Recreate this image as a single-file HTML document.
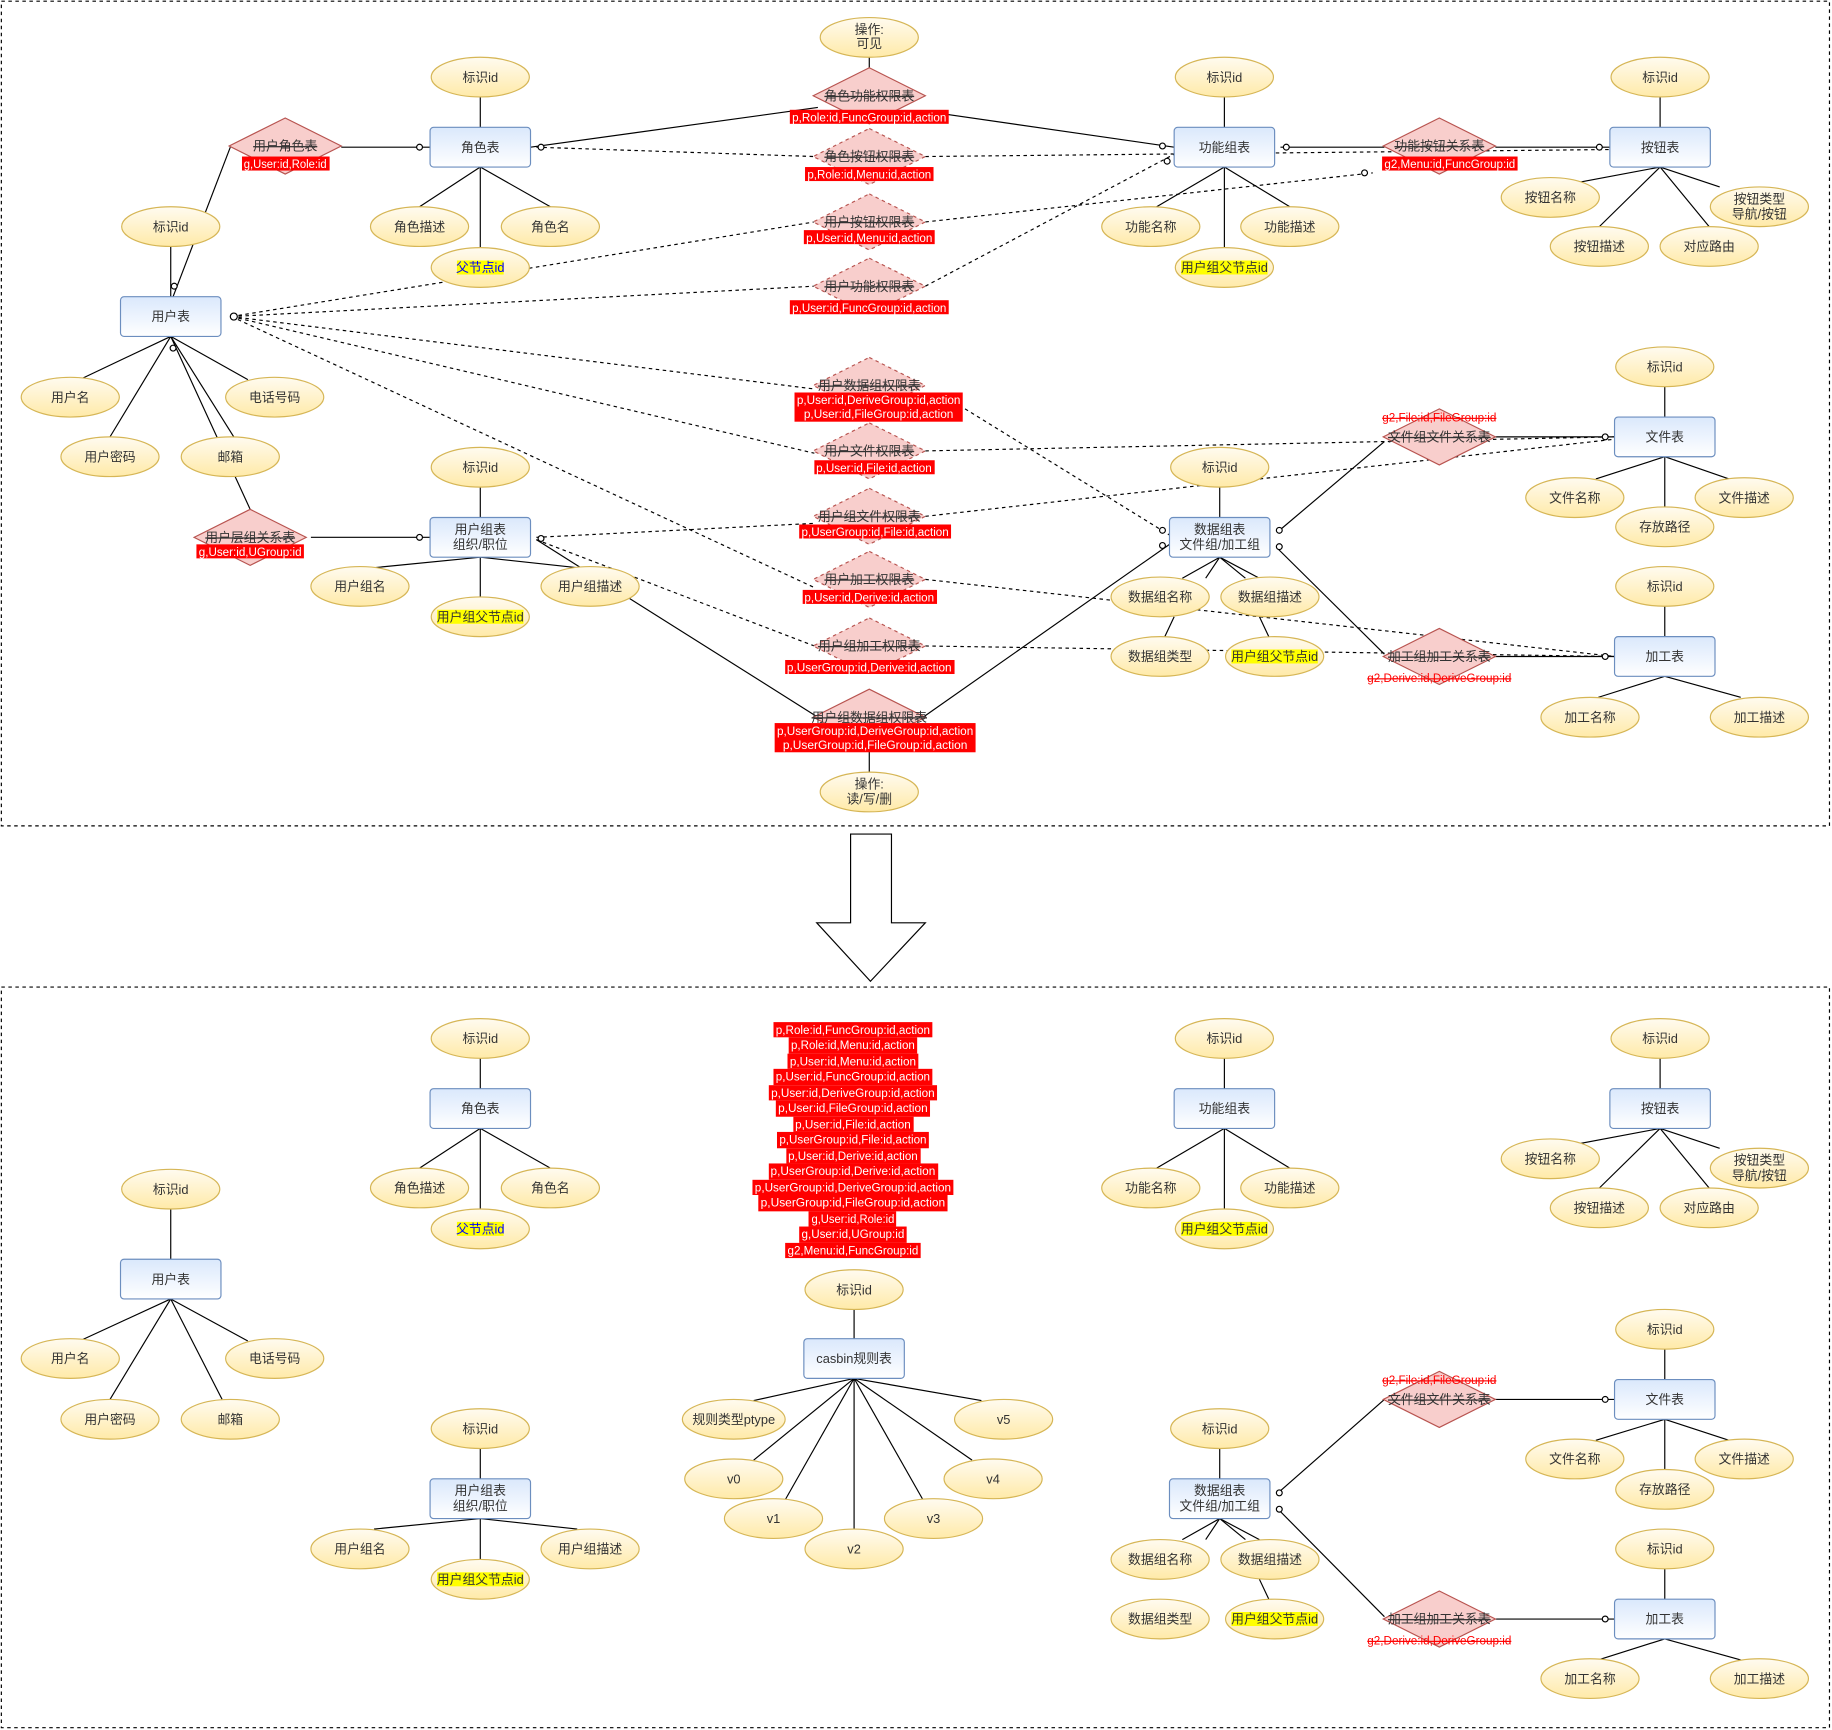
<!DOCTYPE html>
<html><head><meta charset="utf-8"><style>
html,body{margin:0;padding:0;background:#fff;}
svg{display:block;}
text{font-family:"Liberation Sans","Noto Sans CJK SC",sans-serif;font-size:11px;fill:#333;text-anchor:middle;}
.e{fill:url(#ge);stroke:#d6b656;stroke-width:1;}
.r{fill:url(#gr);stroke:#6c8ebf;stroke-width:1;}
.d{fill:#f8cecc;stroke:#b85450;stroke-width:1;}
.dd{fill:#f8cecc;stroke:#b85450;stroke-width:1;stroke-dasharray:3 3;}
.l{stroke:#000;stroke-width:1;fill:none;}
.ds{stroke:#000;stroke-width:1;fill:none;stroke-dasharray:3 3;}
.rl{fill:#fff;font-size:10px;}
.st{text-decoration:line-through;}
.rt{fill:#f00;font-size:10px;text-decoration:line-through;}
.hl{fill:#ff0;}
.o{fill:#fff;stroke:#000;stroke-width:1;}
</style></head><body>
<svg width="1832" height="1730" viewBox="0 0 1568 1481" xmlns="http://www.w3.org/2000/svg">
<defs>
<linearGradient id="ge" x1="0" y1="0" x2="0" y2="1"><stop offset="0" stop-color="#fffbf0"/><stop offset="1" stop-color="#ffeaa8"/></linearGradient>
<linearGradient id="gr" x1="0" y1="0" x2="0" y2="1"><stop offset="0" stop-color="#dae8fc"/><stop offset="1" stop-color="#ffffff"/></linearGradient>
</defs>
<rect x="0" y="0" width="1568" height="1481" fill="#fff"/>
<rect x="1" y="1" width="1565" height="706" fill="none" stroke="#000" stroke-dasharray="3 3"/>
<rect x="1" y="845" width="1565" height="634" fill="none" stroke="#000" stroke-dasharray="3 3"/>

<!-- big arrow -->
<path d="M728,714 L763,714 L763,790 L792,790 L745,840 L699,790 L728,790 Z" fill="#fff" stroke="#000"/>

<!-- ===== TOP LINES ===== -->
<g class="l">
<line x1="744" y1="48" x2="744" y2="82"/>
<line x1="744" y1="643" x2="744" y2="662"/>
<line x1="292" y1="126" x2="368" y2="126"/>
<line x1="197" y1="126" x2="148" y2="254"/>
<line x1="146" y1="211" x2="146" y2="254"/>
<line x1="454" y1="126" x2="700" y2="92"/>
<line x1="790" y1="95" x2="1005" y2="126"/>
<line x1="411" y1="83" x2="411" y2="109"/>
<line x1="411" y1="143" x2="359" y2="177"/>
<line x1="411" y1="143" x2="471" y2="177"/>
<line x1="411" y1="143" x2="411" y2="212"/>
<line x1="146" y1="288" x2="70" y2="324"/>
<line x1="146" y1="288" x2="212" y2="325"/>
<line x1="146" y1="288" x2="94" y2="374"/>
<line x1="146" y1="288" x2="200" y2="374"/>
<line x1="146" y1="288" x2="214" y2="436"/>
<line x1="266" y1="460" x2="368" y2="460"/>
<line x1="411" y1="417" x2="411" y2="443"/>
<line x1="411" y1="477" x2="320" y2="486"/>
<line x1="411" y1="477" x2="494" y2="486"/>
<line x1="411" y1="477" x2="411" y2="511"/>
<line x1="459" y1="462" x2="700" y2="614"/>
<line x1="790" y1="614" x2="1001" y2="466"/>
<line x1="1048" y1="83" x2="1048" y2="109"/>
<line x1="1048" y1="143" x2="990" y2="177"/>
<line x1="1048" y1="143" x2="1104" y2="177"/>
<line x1="1048" y1="143" x2="1048" y2="212"/>
<line x1="1096" y1="126" x2="1185" y2="126"/>
<line x1="1280" y1="126" x2="1378" y2="126"/>
<line x1="1421" y1="83" x2="1421" y2="109"/>
<line x1="1421" y1="143" x2="1352" y2="156"/>
<line x1="1421" y1="143" x2="1472" y2="160"/>
<line x1="1421" y1="143" x2="1369" y2="194"/>
<line x1="1421" y1="143" x2="1463" y2="194"/>
<line x1="1425" y1="331" x2="1425" y2="357"/>
<line x1="1425" y1="391" x2="1366" y2="410"/>
<line x1="1425" y1="391" x2="1480" y2="410"/>
<line x1="1425" y1="391" x2="1425" y2="434"/>
<line x1="1185" y1="378" x2="1094" y2="455"/>
<line x1="1280" y1="374" x2="1382" y2="374"/>
<line x1="1044" y1="417" x2="1044" y2="443"/>
<line x1="1044" y1="477" x2="1012" y2="495"/>
<line x1="1044" y1="477" x2="1066" y2="495"/>
<line x1="1044" y1="477" x2="1032" y2="495"/>
<line x1="1044" y1="477" x2="1078" y2="495"/>
<line x1="1005" y1="528" x2="997" y2="545"/>
<line x1="1078" y1="528" x2="1086" y2="545"/>
<line x1="1185" y1="560" x2="1094" y2="470"/>
<line x1="1280" y1="562" x2="1382" y2="562"/>
<line x1="1425" y1="519" x2="1425" y2="545"/>
<line x1="1425" y1="579" x2="1368" y2="597"/>
<line x1="1425" y1="579" x2="1490" y2="597"/>
</g>
<g class="ds">
<line x1="459" y1="126" x2="697" y2="134"/>
<line x1="792" y1="134" x2="1378" y2="128"/>
<line x1="792" y1="190" x2="1175" y2="148"/>
<line x1="792" y1="245" x2="1005" y2="132"/>
<line x1="198" y1="271" x2="697" y2="190"/>
<line x1="198" y1="271" x2="697" y2="245"/>
<line x1="198" y1="271" x2="697" y2="333"/>
<line x1="198" y1="271" x2="697" y2="388"/>
<line x1="198" y1="271" x2="697" y2="503"/>
<line x1="826" y1="350" x2="1001" y2="458"/>
<line x1="792" y1="386" x2="1382" y2="374"/>
<line x1="459" y1="460" x2="697" y2="448"/>
<line x1="792" y1="442" x2="1382" y2="376"/>
<line x1="459" y1="462" x2="697" y2="553"/>
<line x1="792" y1="553" x2="1382" y2="562"/>
<line x1="792" y1="496" x2="1382" y2="562"/>
</g>
<!-- markers -->
<g class="o">
<circle cx="359" cy="126" r="2.5"/><circle cx="463" cy="126" r="2.5"/><circle cx="200" cy="271" r="3"/>
<circle cx="149" cy="245" r="2.5"/><circle cx="148" cy="298" r="2.5"/><circle cx="359" cy="460" r="2.5"/>
<circle cx="463" cy="461" r="2.5"/><circle cx="995" cy="125" r="2.5"/><circle cx="999" cy="138" r="2.5"/>
<circle cx="1101" cy="126" r="2.5"/><circle cx="1369" cy="126" r="2.5"/><circle cx="1168" cy="148" r="2.5"/>
<circle cx="1374" cy="374" r="2.5"/><circle cx="995" cy="454" r="2.5"/><circle cx="995" cy="467" r="2.5"/>
<circle cx="1095" cy="454" r="2.5"/><circle cx="1095" cy="468" r="2.5"/><circle cx="1374" cy="562" r="2.5"/>
</g>

<!-- ===== TOP DIAMONDS ===== -->
<path class="d" d="M744,58 L792,82 L744,106 L696,82Z"/><text x="744" y="86" class="st">角色功能权限表</text>
<path class="dd" d="M744,110 L792,134 L744,158 L696,134Z"/><text x="744" y="138" class="st">角色按钮权限表</text>
<path class="dd" d="M744,166 L792,190 L744,214 L696,190Z"/><text x="744" y="194" class="st">用户按钮权限表</text>
<path class="dd" d="M744,221 L792,245 L744,269 L696,245Z"/><text x="744" y="249" class="st">用户功能权限表</text>
<path class="dd" d="M744,306 L792,330 L744,354 L696,330Z"/><text x="744" y="334" class="st">用户数据组权限表</text>
<path class="dd" d="M744,362 L792,386 L744,410 L696,386Z"/><text x="744" y="390" class="st">用户文件权限表</text>
<path class="dd" d="M744,418 L792,442 L744,466 L696,442Z"/><text x="744" y="446" class="st">用户组文件权限表</text>
<path class="dd" d="M744,472 L792,496 L744,520 L696,496Z"/><text x="744" y="500" class="st">用户加工权限表</text>
<path class="dd" d="M744,529 L792,553 L744,577 L696,553Z"/><text x="744" y="557" class="st">用户组加工权限表</text>
<path class="d" d="M744,590 L792,614 L744,638 L696,614Z"/><text x="744" y="618" class="st">用户组数据组权限表</text>
<path class="d" d="M244,101 L292,125 L244,149 L196,125Z"/><text x="244" y="129" class="st">用户角色表</text>
<path class="d" d="M214,436 L262,460 L214,484 L166,460Z"/><text x="214" y="464" class="st">用户层组关系表</text>
<path class="d" d="M1232,101 L1280,125 L1232,149 L1184,125Z"/><text x="1232" y="129" class="st">功能按钮关系表</text>
<path class="d" d="M1232,350 L1280,374 L1232,398 L1184,374Z"/><text x="1232" y="378" class="st">文件组文件关系表</text>
<path class="d" d="M1232,538 L1280,562 L1232,586 L1184,562Z"/><text x="1232" y="566" class="st">加工组加工关系表</text>
<text x="1232" y="361" class="rt">g2,File:id,FileGroup:id</text>
<text x="1232" y="584" class="rt">g2,Derive:id,DeriveGroup:id</text>

<!-- red labels top -->
<g>
<rect x="676" y="94" width="136" height="12" fill="#f00"/><text x="744" y="104" class="rl" textLength="132" lengthAdjust="spacingAndGlyphs">p,Role:id,FuncGroup:id,action</text>
<rect x="689" y="143" width="110" height="12" fill="#f00"/><text x="744" y="153" class="rl" textLength="106" lengthAdjust="spacingAndGlyphs">p,Role:id,Menu:id,action</text>
<rect x="688" y="197" width="112" height="12" fill="#f00"/><text x="744" y="207" class="rl" textLength="108" lengthAdjust="spacingAndGlyphs">p,User:id,Menu:id,action</text>
<rect x="676" y="257" width="136" height="12" fill="#f00"/><text x="744" y="267" class="rl" textLength="132" lengthAdjust="spacingAndGlyphs">p,User:id,FuncGroup:id,action</text>
<rect x="680" y="336" width="144" height="25" fill="#f00"/><text x="752" y="346" class="rl" textLength="140" lengthAdjust="spacingAndGlyphs">p,User:id,DeriveGroup:id,action</text><text x="752" y="358" class="rl" textLength="128" lengthAdjust="spacingAndGlyphs">p,User:id,FileGroup:id,action</text>
<rect x="697" y="394" width="103" height="12" fill="#f00"/><text x="748" y="404" class="rl" textLength="99" lengthAdjust="spacingAndGlyphs">p,User:id,File:id,action</text>
<rect x="684" y="449" width="130" height="12" fill="#f00"/><text x="749" y="459" class="rl" textLength="126" lengthAdjust="spacingAndGlyphs">p,UserGroup:id,File:id,action</text>
<rect x="687" y="505" width="115" height="12" fill="#f00"/><text x="744" y="515" class="rl" textLength="111" lengthAdjust="spacingAndGlyphs">p,User:id,Derive:id,action</text>
<rect x="672" y="565" width="145" height="12" fill="#f00"/><text x="744" y="575" class="rl" textLength="141" lengthAdjust="spacingAndGlyphs">p,UserGroup:id,Derive:id,action</text>
<rect x="663" y="619" width="172" height="25" fill="#f00"/><text x="749" y="629" class="rl" textLength="168" lengthAdjust="spacingAndGlyphs">p,UserGroup:id,DeriveGroup:id,action</text><text x="749" y="641" class="rl" textLength="158" lengthAdjust="spacingAndGlyphs">p,UserGroup:id,FileGroup:id,action</text>
<rect x="207" y="134" width="75" height="12" fill="#f00"/><text x="244" y="144" class="rl" textLength="71" lengthAdjust="spacingAndGlyphs">g,User:id,Role:id</text>
<rect x="168" y="466" width="92" height="12" fill="#f00"/><text x="214" y="476" class="rl" textLength="88" lengthAdjust="spacingAndGlyphs">g,User:id,UGroup:id</text>
<rect x="1183" y="134" width="116" height="12" fill="#f00"/><text x="1241" y="144" class="rl" textLength="112" lengthAdjust="spacingAndGlyphs">g2,Menu:id,FuncGroup:id</text>
</g>

<!-- TOP ellipses -->
<ellipse class="e" cx="744" cy="32" rx="42" ry="17"/><text x="744" y="29">操作:</text><text x="744" y="41">可见</text>
<ellipse class="e" cx="744" cy="678" rx="42" ry="17"/><text x="744" y="675">操作:</text><text x="744" y="688">读/写/删</text>
<ellipse class="e" cx="411" cy="66" rx="42" ry="17"/><text x="411" y="70">标识id</text>
<ellipse class="e" cx="359" cy="194" rx="42" ry="17"/><text x="359" y="198">角色描述</text>
<ellipse class="e" cx="471" cy="194" rx="42" ry="17"/><text x="471" y="198">角色名</text>
<ellipse class="e" cx="411" cy="229" rx="42" ry="17"/><rect x="391" y="223" width="40" height="12" class="hl"/><text x="411" y="233" style="fill:#00f">父节点id</text>
<ellipse class="e" cx="146" cy="194" rx="42" ry="17"/><text x="146" y="198">标识id</text>
<ellipse class="e" cx="60" cy="340" rx="42" ry="17"/><text x="60" y="344">用户名</text>
<ellipse class="e" cx="235" cy="340" rx="42" ry="17"/><text x="235" y="344">电话号码</text>
<ellipse class="e" cx="94" cy="391" rx="42" ry="17"/><text x="94" y="395">用户密码</text>
<ellipse class="e" cx="197" cy="391" rx="42" ry="17"/><text x="197" y="395">邮箱</text>
<ellipse class="e" cx="411" cy="400" rx="42" ry="17"/><text x="411" y="404">标识id</text>
<ellipse class="e" cx="308" cy="502" rx="42" ry="17"/><text x="308" y="506">用户组名</text>
<ellipse class="e" cx="505" cy="502" rx="42" ry="17"/><text x="505" y="506">用户组描述</text>
<ellipse class="e" cx="411" cy="528" rx="42" ry="17"/><rect x="374" y="522" width="74" height="12" class="hl"/><text x="411" y="532">用户组父节点id</text>
<ellipse class="e" cx="1048" cy="66" rx="42" ry="17"/><text x="1048" y="70">标识id</text>
<ellipse class="e" cx="985" cy="194" rx="42" ry="17"/><text x="985" y="198">功能名称</text>
<ellipse class="e" cx="1104" cy="194" rx="42" ry="17"/><text x="1104" y="198">功能描述</text>
<ellipse class="e" cx="1048" cy="229" rx="42" ry="17"/><rect x="1011" y="223" width="74" height="12" class="hl"/><text x="1048" y="233">用户组父节点id</text>
<ellipse class="e" cx="1421" cy="66" rx="42" ry="17"/><text x="1421" y="70">标识id</text>
<ellipse class="e" cx="1327" cy="169" rx="42" ry="17"/><text x="1327" y="173">按钮名称</text>
<ellipse class="e" cx="1506" cy="177" rx="42" ry="17"/><text x="1506" y="174">按钮类型</text><text x="1506" y="187">导航/按钮</text>
<ellipse class="e" cx="1369" cy="211" rx="42" ry="17"/><text x="1369" y="215">按钮描述</text>
<ellipse class="e" cx="1463" cy="211" rx="42" ry="17"/><text x="1463" y="215">对应路由</text>
<ellipse class="e" cx="1425" cy="314" rx="42" ry="17"/><text x="1425" y="318">标识id</text>
<ellipse class="e" cx="1348" cy="426" rx="42" ry="17"/><text x="1348" y="430">文件名称</text>
<ellipse class="e" cx="1493" cy="426" rx="42" ry="17"/><text x="1493" y="430">文件描述</text>
<ellipse class="e" cx="1425" cy="451" rx="42" ry="17"/><text x="1425" y="455">存放路径</text>
<ellipse class="e" cx="1044" cy="400" rx="42" ry="17"/><text x="1044" y="404">标识id</text>
<ellipse class="e" cx="993" cy="511" rx="42" ry="17"/><text x="993" y="515">数据组名称</text>
<ellipse class="e" cx="1087" cy="511" rx="42" ry="17"/><text x="1087" y="515">数据组描述</text>
<ellipse class="e" cx="993" cy="562" rx="42" ry="17"/><text x="993" y="566">数据组类型</text>
<ellipse class="e" cx="1091" cy="562" rx="42" ry="17"/><rect x="1054" y="556" width="74" height="12" class="hl"/><text x="1091" y="566">用户组父节点id</text>
<ellipse class="e" cx="1425" cy="502" rx="42" ry="17"/><text x="1425" y="506">标识id</text>
<ellipse class="e" cx="1361" cy="614" rx="42" ry="17"/><text x="1361" y="618">加工名称</text>
<ellipse class="e" cx="1506" cy="614" rx="42" ry="17"/><text x="1506" y="618">加工描述</text>

<!-- TOP rects -->
<rect class="r" x="368" y="109" width="86" height="34" rx="3"/><text x="411" y="130">角色表</text>
<rect class="r" x="103" y="254" width="86" height="34" rx="3"/><text x="146" y="275">用户表</text>
<rect class="r" x="368" y="443" width="86" height="34" rx="3"/><text x="411" y="457">用户组表</text><text x="411" y="470">组织/职位</text>
<rect class="r" x="1005" y="109" width="86" height="34" rx="3"/><text x="1048" y="130">功能组表</text>
<rect class="r" x="1378" y="109" width="86" height="34" rx="3"/><text x="1421" y="130">按钮表</text>
<rect class="r" x="1382" y="357" width="86" height="34" rx="3"/><text x="1425" y="378">文件表</text>
<rect class="r" x="1001" y="443" width="86" height="34" rx="3"/><text x="1044" y="457">数据组表</text><text x="1044" y="470">文件组/加工组</text>
<rect class="r" x="1382" y="545" width="86" height="34" rx="3"/><text x="1425" y="566">加工表</text>

<!-- ===== BOTTOM ===== -->
<g class="l">
<line x1="411" y1="906" x2="411" y2="932"/>
<line x1="411" y1="966" x2="359" y2="1000"/>
<line x1="411" y1="966" x2="471" y2="1000"/>
<line x1="411" y1="966" x2="411" y2="1035"/>
<line x1="146" y1="1035" x2="146" y2="1078"/>
<line x1="146" y1="1112" x2="70" y2="1147"/>
<line x1="146" y1="1112" x2="212" y2="1148"/>
<line x1="146" y1="1112" x2="94" y2="1198"/>
<line x1="146" y1="1112" x2="190" y2="1198"/>
<line x1="411" y1="1240" x2="411" y2="1266"/>
<line x1="411" y1="1300" x2="320" y2="1309"/>
<line x1="411" y1="1300" x2="494" y2="1309"/>
<line x1="411" y1="1300" x2="411" y2="1335"/>
<line x1="1048" y1="906" x2="1048" y2="932"/>
<line x1="1048" y1="966" x2="990" y2="1000"/>
<line x1="1048" y1="966" x2="1104" y2="1000"/>
<line x1="1048" y1="966" x2="1048" y2="1035"/>
<line x1="1421" y1="906" x2="1421" y2="932"/>
<line x1="1421" y1="966" x2="1352" y2="979"/>
<line x1="1421" y1="966" x2="1472" y2="983"/>
<line x1="1421" y1="966" x2="1369" y2="1017"/>
<line x1="1421" y1="966" x2="1463" y2="1017"/>
<line x1="731" y1="1121" x2="731" y2="1146"/>
<line x1="731" y1="1180" x2="645" y2="1199"/>
<line x1="731" y1="1180" x2="840" y2="1199"/>
<line x1="731" y1="1180" x2="645" y2="1250"/>
<line x1="731" y1="1180" x2="832" y2="1250"/>
<line x1="731" y1="1180" x2="672" y2="1284"/>
<line x1="731" y1="1180" x2="790" y2="1284"/>
<line x1="731" y1="1180" x2="731" y2="1309"/>
<line x1="1425" y1="1155" x2="1425" y2="1181"/>
<line x1="1425" y1="1215" x2="1366" y2="1233"/>
<line x1="1425" y1="1215" x2="1480" y2="1233"/>
<line x1="1425" y1="1215" x2="1425" y2="1258"/>
<line x1="1185" y1="1198" x2="1094" y2="1278"/>
<line x1="1280" y1="1198" x2="1382" y2="1198"/>
<line x1="1044" y1="1240" x2="1044" y2="1266"/>
<line x1="1044" y1="1300" x2="1012" y2="1318"/>
<line x1="1044" y1="1300" x2="1066" y2="1318"/>
<line x1="1044" y1="1300" x2="1032" y2="1318"/>
<line x1="1044" y1="1300" x2="1078" y2="1318"/>
<line x1="1078" y1="1352" x2="1086" y2="1369"/>
<line x1="1185" y1="1384" x2="1094" y2="1292"/>
<line x1="1280" y1="1386" x2="1382" y2="1386"/>
<line x1="1425" y1="1343" x2="1425" y2="1369"/>
<line x1="1425" y1="1403" x2="1368" y2="1421"/>
<line x1="1425" y1="1403" x2="1490" y2="1421"/>
</g>
<g class="o">
<circle cx="1374" cy="1198" r="2.5"/><circle cx="1095" cy="1278" r="2.5"/><circle cx="1095" cy="1292" r="2.5"/><circle cx="1374" cy="1386" r="2.5"/>
</g>
<path class="d" d="M1232,1174 L1280,1198 L1232,1222 L1184,1198Z"/><text x="1232" y="1202" class="st">文件组文件关系表</text>
<path class="d" d="M1232,1362 L1280,1386 L1232,1410 L1184,1386Z"/><text x="1232" y="1390" class="st">加工组加工关系表</text>
<text x="1232" y="1185" class="rt">g2,File:id,FileGroup:id</text>
<text x="1232" y="1408" class="rt">g2,Derive:id,DeriveGroup:id</text>

<!-- red list -->
<g>
<rect x="662" y="875" width="136" height="13" fill="#f00"/><text x="730" y="885" class="rl" textLength="132" lengthAdjust="spacingAndGlyphs">p,Role:id,FuncGroup:id,action</text>
<rect x="675" y="888" width="110" height="14" fill="#f00"/><text x="730" y="898" class="rl" textLength="106" lengthAdjust="spacingAndGlyphs">p,Role:id,Menu:id,action</text>
<rect x="674" y="902" width="112" height="13" fill="#f00"/><text x="730" y="912" class="rl" textLength="108" lengthAdjust="spacingAndGlyphs">p,User:id,Menu:id,action</text>
<rect x="662" y="915" width="136" height="14" fill="#f00"/><text x="730" y="925" class="rl" textLength="132" lengthAdjust="spacingAndGlyphs">p,User:id,FuncGroup:id,action</text>
<rect x="658" y="929" width="144" height="13" fill="#f00"/><text x="730" y="939" class="rl" textLength="140" lengthAdjust="spacingAndGlyphs">p,User:id,DeriveGroup:id,action</text>
<rect x="664" y="942" width="132" height="14" fill="#f00"/><text x="730" y="952" class="rl" textLength="128" lengthAdjust="spacingAndGlyphs">p,User:id,FileGroup:id,action</text>
<rect x="679" y="956" width="103" height="13" fill="#f00"/><text x="730" y="966" class="rl" textLength="99" lengthAdjust="spacingAndGlyphs">p,User:id,File:id,action</text>
<rect x="665" y="969" width="130" height="14" fill="#f00"/><text x="730" y="979" class="rl" textLength="126" lengthAdjust="spacingAndGlyphs">p,UserGroup:id,File:id,action</text>
<rect x="673" y="983" width="115" height="13" fill="#f00"/><text x="730" y="993" class="rl" textLength="111" lengthAdjust="spacingAndGlyphs">p,User:id,Derive:id,action</text>
<rect x="658" y="996" width="145" height="14" fill="#f00"/><text x="730" y="1006" class="rl" textLength="141" lengthAdjust="spacingAndGlyphs">p,UserGroup:id,Derive:id,action</text>
<rect x="644" y="1010" width="172" height="13" fill="#f00"/><text x="730" y="1020" class="rl" textLength="168" lengthAdjust="spacingAndGlyphs">p,UserGroup:id,DeriveGroup:id,action</text>
<rect x="649" y="1023" width="162" height="14" fill="#f00"/><text x="730" y="1033" class="rl" textLength="158" lengthAdjust="spacingAndGlyphs">p,UserGroup:id,FileGroup:id,action</text>
<rect x="692" y="1037" width="75" height="13" fill="#f00"/><text x="730" y="1047" class="rl" textLength="71" lengthAdjust="spacingAndGlyphs">g,User:id,Role:id</text>
<rect x="684" y="1050" width="92" height="14" fill="#f00"/><text x="730" y="1060" class="rl" textLength="88" lengthAdjust="spacingAndGlyphs">g,User:id,UGroup:id</text>
<rect x="672" y="1064" width="116" height="13" fill="#f00"/><text x="730" y="1074" class="rl" textLength="112" lengthAdjust="spacingAndGlyphs">g2,Menu:id,FuncGroup:id</text>
</g>

<!-- bottom ellipses -->
<ellipse class="e" cx="411" cy="889" rx="42" ry="17"/><text x="411" y="893">标识id</text>
<ellipse class="e" cx="359" cy="1017" rx="42" ry="17"/><text x="359" y="1021">角色描述</text>
<ellipse class="e" cx="471" cy="1017" rx="42" ry="17"/><text x="471" y="1021">角色名</text>
<ellipse class="e" cx="411" cy="1052" rx="42" ry="17"/><rect x="391" y="1046" width="40" height="12" class="hl"/><text x="411" y="1056" style="fill:#00f">父节点id</text>
<ellipse class="e" cx="146" cy="1018" rx="42" ry="17"/><text x="146" y="1022">标识id</text>
<ellipse class="e" cx="60" cy="1163" rx="42" ry="17"/><text x="60" y="1167">用户名</text>
<ellipse class="e" cx="235" cy="1163" rx="42" ry="17"/><text x="235" y="1167">电话号码</text>
<ellipse class="e" cx="94" cy="1215" rx="42" ry="17"/><text x="94" y="1219">用户密码</text>
<ellipse class="e" cx="197" cy="1215" rx="42" ry="17"/><text x="197" y="1219">邮箱</text>
<ellipse class="e" cx="411" cy="1223" rx="42" ry="17"/><text x="411" y="1227">标识id</text>
<ellipse class="e" cx="308" cy="1326" rx="42" ry="17"/><text x="308" y="1330">用户组名</text>
<ellipse class="e" cx="505" cy="1326" rx="42" ry="17"/><text x="505" y="1330">用户组描述</text>
<ellipse class="e" cx="411" cy="1352" rx="42" ry="17"/><rect x="374" y="1346" width="74" height="12" class="hl"/><text x="411" y="1356">用户组父节点id</text>
<ellipse class="e" cx="1048" cy="889" rx="42" ry="17"/><text x="1048" y="893">标识id</text>
<ellipse class="e" cx="985" cy="1017" rx="42" ry="17"/><text x="985" y="1021">功能名称</text>
<ellipse class="e" cx="1104" cy="1017" rx="42" ry="17"/><text x="1104" y="1021">功能描述</text>
<ellipse class="e" cx="1048" cy="1052" rx="42" ry="17"/><rect x="1011" y="1046" width="74" height="12" class="hl"/><text x="1048" y="1056">用户组父节点id</text>
<ellipse class="e" cx="1421" cy="889" rx="42" ry="17"/><text x="1421" y="893">标识id</text>
<ellipse class="e" cx="1327" cy="992" rx="42" ry="17"/><text x="1327" y="996">按钮名称</text>
<ellipse class="e" cx="1506" cy="1000" rx="42" ry="17"/><text x="1506" y="997">按钮类型</text><text x="1506" y="1010">导航/按钮</text>
<ellipse class="e" cx="1369" cy="1034" rx="42" ry="17"/><text x="1369" y="1038">按钮描述</text>
<ellipse class="e" cx="1463" cy="1034" rx="42" ry="17"/><text x="1463" y="1038">对应路由</text>
<ellipse class="e" cx="731" cy="1104" rx="42" ry="17"/><text x="731" y="1108">标识id</text>
<ellipse class="e" cx="628" cy="1215" rx="44" ry="17"/><text x="628" y="1219">规则类型ptype</text>
<ellipse class="e" cx="859" cy="1215" rx="42" ry="17"/><text x="859" y="1219">v5</text>
<ellipse class="e" cx="628" cy="1266" rx="42" ry="17"/><text x="628" y="1270">v0</text>
<ellipse class="e" cx="850" cy="1266" rx="42" ry="17"/><text x="850" y="1270">v4</text>
<ellipse class="e" cx="662" cy="1300" rx="42" ry="17"/><text x="662" y="1304">v1</text>
<ellipse class="e" cx="799" cy="1300" rx="42" ry="17"/><text x="799" y="1304">v3</text>
<ellipse class="e" cx="731" cy="1326" rx="42" ry="17"/><text x="731" y="1330">v2</text>
<ellipse class="e" cx="1425" cy="1138" rx="42" ry="17"/><text x="1425" y="1142">标识id</text>
<ellipse class="e" cx="1348" cy="1249" rx="42" ry="17"/><text x="1348" y="1253">文件名称</text>
<ellipse class="e" cx="1493" cy="1249" rx="42" ry="17"/><text x="1493" y="1253">文件描述</text>
<ellipse class="e" cx="1425" cy="1275" rx="42" ry="17"/><text x="1425" y="1279">存放路径</text>
<ellipse class="e" cx="1044" cy="1223" rx="42" ry="17"/><text x="1044" y="1227">标识id</text>
<ellipse class="e" cx="993" cy="1335" rx="42" ry="17"/><text x="993" y="1339">数据组名称</text>
<ellipse class="e" cx="1087" cy="1335" rx="42" ry="17"/><text x="1087" y="1339">数据组描述</text>
<ellipse class="e" cx="993" cy="1386" rx="42" ry="17"/><text x="993" y="1390">数据组类型</text>
<ellipse class="e" cx="1091" cy="1386" rx="42" ry="17"/><rect x="1054" y="1380" width="74" height="12" class="hl"/><text x="1091" y="1390">用户组父节点id</text>
<ellipse class="e" cx="1425" cy="1326" rx="42" ry="17"/><text x="1425" y="1330">标识id</text>
<ellipse class="e" cx="1361" cy="1437" rx="42" ry="17"/><text x="1361" y="1441">加工名称</text>
<ellipse class="e" cx="1506" cy="1437" rx="42" ry="17"/><text x="1506" y="1441">加工描述</text>

<!-- bottom rects -->
<rect class="r" x="368" y="932" width="86" height="34" rx="3"/><text x="411" y="953">角色表</text>
<rect class="r" x="103" y="1078" width="86" height="34" rx="3"/><text x="146" y="1099">用户表</text>
<rect class="r" x="368" y="1266" width="86" height="34" rx="3"/><text x="411" y="1280">用户组表</text><text x="411" y="1293">组织/职位</text>
<rect class="r" x="1005" y="932" width="86" height="34" rx="3"/><text x="1048" y="953">功能组表</text>
<rect class="r" x="1378" y="932" width="86" height="34" rx="3"/><text x="1421" y="953">按钮表</text>
<rect class="r" x="688" y="1146" width="86" height="34" rx="3"/><text x="731" y="1167">casbin规则表</text>
<rect class="r" x="1382" y="1181" width="86" height="34" rx="3"/><text x="1425" y="1202">文件表</text>
<rect class="r" x="1001" y="1266" width="86" height="34" rx="3"/><text x="1044" y="1280">数据组表</text><text x="1044" y="1293">文件组/加工组</text>
<rect class="r" x="1382" y="1369" width="86" height="34" rx="3"/><text x="1425" y="1390">加工表</text>
</svg>
</body></html>
